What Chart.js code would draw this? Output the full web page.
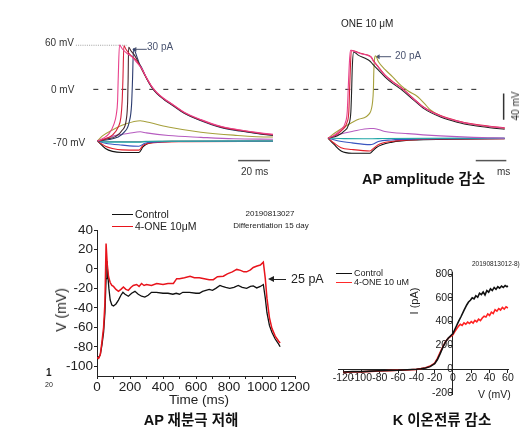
<!DOCTYPE html>
<html><head><meta charset="utf-8">
<script src="https://cdn.jsdelivr.net/npm/chart.js@4.4.1/dist/chart.umd.min.js"></script>
<style>
html,body{margin:0;padding:0;background:#fff;}
body{width:529px;height:437px;position:relative;overflow:hidden;font-family:"Liberation Sans",Arial,sans-serif;color:#222;}
canvas{position:absolute;}
.t{position:absolute;white-space:nowrap;line-height:1;}
.c{transform:translateX(-50%);}
.r{transform:translate(-50%,-50%) rotate(-90deg);}
.kr{font-family:"Liberation Sans",Arial,"Noto Sans CJK KR",sans-serif;font-weight:bold;color:#111;}
.ln{position:absolute;height:0;}
</style></head><body>
<canvas id="top" width="529" height="195" style="left:0px;top:0px"></canvas>
<canvas id="ap" width="315" height="180" style="left:0px;top:220px"></canvas>
<canvas id="iv" width="209" height="155" style="left:320px;top:255px"></canvas>

<!-- top panel text -->
<div class="t" style="left:45px;top:38px;font-size:10px;color:#333">60 mV</div>
<div class="t" style="left:51px;top:85px;font-size:10px;color:#333">0 mV</div>
<div class="t" style="left:53px;top:138px;font-size:10px;color:#333">-70 mV</div>
<div class="t" style="left:147px;top:42px;font-size:10px;color:#4a5470">30 pA</div>
<div class="t" style="left:395px;top:51px;font-size:10px;color:#4a5470">20 pA</div>
<div class="t" style="left:341px;top:19px;font-size:10px;color:#222">ONE 10 μM</div>
<div class="t" style="left:241px;top:167px;font-size:10px;color:#333">20 ms</div>
<div class="t" style="left:497px;top:167px;font-size:10px;color:#333">ms</div>
<div class="t r" style="left:516px;top:106px;font-size:10px;color:#333">40 mV</div>
<div class="t kr" style="left:362px;top:172px;font-size:14.5px">AP amplitude 감소</div>

<!-- bottom-left text -->
<div class="ln" style="left:112px;top:214px;width:21px;border-top:1.4px solid #111"></div>
<div class="t" style="left:135px;top:209px;font-size:10.5px">Control</div>
<div class="ln" style="left:112px;top:226px;width:21px;border-top:1.4px solid #e8141c"></div>
<div class="t" style="left:135px;top:221px;font-size:10.5px">4-ONE 10μM</div>
<div class="t c" style="left:270px;top:210px;font-size:8px">20190813027</div>
<div class="t c" style="left:271px;top:222px;font-size:8px">Differentiation 15 day</div>
<div class="ln" style="left:273px;top:279px;width:13px;border-top:1px solid #222"></div>
<div style="position:absolute;left:268px;top:276px;width:0;height:0;border-right:6px solid #222;border-top:3.5px solid transparent;border-bottom:3.5px solid transparent"></div>
<div class="t" style="left:291px;top:273px;font-size:12.5px">25 pA</div>
<div class="t r" style="left:61px;top:310px;font-size:14px">V (mV)</div>
<div class="t c" style="left:199px;top:393px;font-size:13.5px">Time (ms)</div>
<div class="t c kr" style="left:191px;top:413px;font-size:14.5px">AP 재분극 저해</div>
<div class="t" style="left:46px;top:368px;font-size:10px;font-weight:bold">1</div>
<div class="t" style="left:45px;top:381px;font-size:7px">20</div>

<!-- bottom-right text -->
<div class="ln" style="left:336px;top:273px;width:16px;border-top:1px solid #111"></div>
<div class="t" style="left:354px;top:268.5px;font-size:9px">Control</div>
<div class="ln" style="left:336px;top:282px;width:16px;border-top:1px solid #ff2a2a"></div>
<div class="t" style="left:354px;top:277.5px;font-size:9px">4-ONE 10 uM</div>
<div class="t" style="left:472px;top:261px;font-size:6.5px">20190813012-8)</div>
<div class="t r" style="left:414px;top:301px;font-size:11px">I (pA)</div>
<div class="t" style="left:478px;top:389px;font-size:10.5px">V (mV)</div>
<div class="t c kr" style="left:442px;top:413px;font-size:14.5px">K 이온전류 감소</div>

<script>
// ================= DATA =================
// Top panel: current-clamp traces, [time ms from step onset, membrane potential mV]
const oneOffset = 146.25; // ONE traces drawn to the right of control traces (ms)

const ctrlPink = [[0,-70],[3.8,-66],[7.3,-60],[10.4,-47],[11.9,-34],[12.7,-16],[13.1,14],[13.9,60],[15.6,55],[18.8,48.5],[21.9,44],[25,36],[28.1,28],[31.3,15],[34.4,4],[37.5,-4],[41.9,-12],[48.1,-21],[55,-31],[65.6,-41],[78.1,-50],[90.6,-55],[103.1,-59],[111.3,-61]];
const ctrlRed = [[0,-70],[5,-67],[9.4,-62],[13.1,-51],[14.8,-38],[15.6,-16],[16.1,14],[16.7,59],[18.1,54],[20.6,47],[23.8,41],[26.3,34],[28.1,27.5],[31.3,14.5],[34.4,3.5],[37.5,-4.5],[41.9,-12.5],[48.1,-21.5],[55,-31.5],[65.6,-41.5],[78.1,-50.5],[90.6,-55.5],[103.1,-59.5],[111.3,-61.5]];
const ctrlDark = [[0,-70],[6.3,-67],[11.4,-64],[15.6,-55.5],[18.3,-40],[19.1,-16],[19.4,14],[19.7,57],[21.3,52],[23.8,45],[26.3,35],[28.1,27],[31.3,14],[34.4,3],[37.5,-5],[41.9,-13],[48.1,-22],[55,-32],[65.6,-42],[78.1,-51],[90.6,-56],[103.1,-60],[111.3,-62]];
const ctrlNavy = [[0,-70],[7.5,-68],[12.5,-65],[16.9,-58],[20,-45],[21.6,-20],[22.2,14],[22.8,55],[25,44],[26.4,35.5],[28.1,29],[31.3,14],[34.4,2.5],[37.5,-5.5],[41.9,-13.5],[48.1,-22.5],[55,-32.5],[65.6,-42.5],[78.1,-51.5],[90.6,-56.5],[103.1,-60.5],[111.3,-62.5]];
const ctrlOlive = [[0,-70],[3.1,-63],[9.4,-55],[17.7,-47],[27.1,-42.5],[30,-43.5],[44.8,-51],[65.6,-58],[86.3,-62],[109.4,-64.5],[111.3,-64.5]];
const ctrlPurple = [[0,-70],[6,-66],[12.5,-62],[20,-59.5],[27.1,-57.5],[31,-59],[45,-62.5],[65.6,-65],[86.3,-67],[111.3,-67.5]];
const ctrlTeal = [[0,-70],[5,-71.5],[26.3,-71.7],[30,-70.8],[40,-70.3],[111.3,-70]];
const ctrlGrey = [[0,-70],[10,-70.6],[26.3,-70.8],[35,-70.2],[111.3,-69.8]];
const ctrlBlue = [[0,-70],[5,-73],[15.6,-75.5],[26.3,-77],[30,-73],[36,-71.5],[47,-70.6],[111.3,-70.3]];
const ctrlHypRed = [[0,-70],[5,-77],[9.4,-80],[15.6,-82],[26.3,-82.3],[28.8,-76],[31.3,-73.5],[40,-71.6],[55,-71],[111.3,-70.5]];
const ctrlHypBlack = [[0,-70],[5,-80],[9.4,-84],[15.6,-85.5],[26.3,-85.5],[28.8,-78],[31.3,-74],[36,-71.5],[48,-70.5],[111.3,-70.3]];

const onePink = [[0,-66],[4,-62],[8,-55],[11,-45],[12.2,-30],[12.8,0],[13.4,30],[14.2,53],[17.3,51],[21.4,48],[25.6,45.5],[27.3,43.5],[28.8,38],[31.9,30],[36.1,19],[41,10],[46.4,2],[53.8,-12],[61.1,-25],[71.4,-36],[81.9,-43],[92.3,-47.5],[102.7,-50.5],[112.1,-52.5]];
const oneRed = [[0,-66],[5,-62],[9,-55],[12,-45],[13.2,-30],[13.7,0],[14.2,30],[14.8,53],[17.3,51.5],[21.4,48.5],[25.6,46],[27.3,44],[28.8,39],[31.9,30.5],[36.1,19.5],[41,10.5],[46.4,2.5],[53.8,-11.5],[61.1,-24.5],[71.4,-35.5],[81.9,-42.5],[92.3,-47],[102.7,-50],[112.1,-52]];
const oneBlack = [[0,-66],[6,-63],[10,-57],[13,-48],[14.5,-30],[15,0],[15.4,30],[16.3,50.5],[19.4,46],[23.6,42],[26.7,38],[28.8,33],[32,26],[36.1,17],[41,8],[46.4,0],[53.8,-13.5],[61.1,-26.5],[71.4,-37.5],[81.9,-44.5],[92.3,-49],[102.7,-52],[112.1,-54]];
const oneOlive = [[0,-66],[5,-58],[11.1,-50],[19.4,-40.5],[26.7,-31.5],[28.3,-16.5],[28.8,0],[29.1,27],[30.2,45.5],[31.9,37.7],[36.1,27],[41,17],[46.4,5],[50.6,-2],[56.9,-10],[61.1,-19],[65,-28],[71.4,-36],[81.9,-43.5],[92.3,-48],[102.7,-51],[112.1,-53]];
const onePurple = [[0,-66],[8,-60.5],[15.2,-57],[26.7,-53],[29,-53],[36.1,-57],[50.6,-60],[71.4,-63],[92.3,-65],[112.1,-66]];
const oneTeal = [[0,-66],[10,-66.8],[28,-67],[35,-66.6],[112.1,-66]];
const oneBlue = [[0,-66],[6,-69.5],[15.2,-72.5],[26.7,-74.9],[28.8,-74],[31.9,-70.6],[40,-68.5],[56.9,-67.3],[112.1,-66.5]];
const oneHypRed = [[0,-66],[4,-73],[8.3,-79],[15.2,-81.4],[26.7,-83.5],[28.8,-80],[31.9,-74.9],[40,-70.6],[56.9,-68],[112.1,-66.8]];
const oneHypBlack = [[0,-66],[4,-75],[8.3,-83.5],[15.2,-86.5],[26.7,-86.5],[28.5,-83],[30.5,-79],[40,-71.8],[56.9,-68.4],[112.1,-67]];

// Top panel reference marks (data units: ms, mV)
const zeroLine = [[-2.7,0],[242.7,0]];
const peakLine = [[-13.75,59.7],[18.75,59.7]];
const timeBarCtrl = [[89.2,-96.5],[109.4,-96.5]];
const timeBarOne = [[240,-96.5],[259.4,-96.5]];
const voltBar = [[257.7,-5.6],[257.7,-41.2]];
const arrow30 = [[23.75,54.2],[31.25,54.2]];
const arrow20 = [[178.1,44.2],[186.25,44.2]];

// Bottom-left: AP repolarisation, [time ms, V mV]
const apControl = [[0,-90],[10,-91],[20,-88],[30,-78],[40,-65],[48,-45],[55,-10],[60,8],[65,-5],[72,-20],[80,-32],[90,-37],[100,-38],[115,-36],[130,-32],[145,-27],[157,-24],[170,-26],[190,-28],[210,-25],[230,-23],[250,-26],[270,-28],[290,-29],[310,-27],[330,-24],[360,-24],[400,-25],[430,-25],[460,-26],[480,-25],[500,-26],[520,-24],[560,-24],[600,-25],[620,-25],[640,-23],[660,-22],[680,-21],[700,-22],[720,-20],[745,-17],[760,-18],[780,-19],[805,-20],[830,-19],[856,-17],[880,-19],[907,-20],[930,-18],[947,-17.5],[968,-19.5],[990,-18],[1008,-16],[1020,-30],[1030,-45],[1045,-58],[1060,-65],[1080,-72],[1100,-77],[1110,-80]];
const apOne = [[0,-91],[10,-92],[20,-88],[30,-75],[40,-60],[48,-35],[55,26],[62,5],[70,-8],[80,-14],[90,-17],[100,-18],[115,-21],[130,-23],[145,-21],[160,-18.5],[175,-21],[190,-22],[205,-19],[220,-17],[240,-16],[255,-18],[270,-15],[285,-17],[300,-16],[330,-17],[362,-15],[400,-16],[430,-15],[463,-15],[483,-10],[500,-10],[530,-9],[564,-7.5],[590,-9],[620,-9],[650,-10],[680,-11],[705,-11],[730,-8],[766,-7.5],[790,-5],[820,-3],[847,-0.5],[870,-1.5],[890,-3],[907,-3],[930,-1],[947,1.5],[970,3],[990,4],[1008,7],[1020,-10],[1030,-30],[1045,-50],[1060,-61],[1080,-69],[1100,-74],[1110,-76]];
const apXTicks = [0,100,200,300,400,500,600,700,800,900,1000,1100,1200];
const apYTicks = [-100,-80,-60,-40,-20,0,20,40];

// Bottom-right: K current I-V, [V mV, I pA]
const ivControl = [[-120,-25],[-110,-22],[-100,-22],[-90,-18],[-80,-15],[-70,-12],[-60,-10],[-50,-6],[-40,-2],[-35,2],[-30,8],[-25,20],[-20,45],[-17,80],[-14,130],[-11,185],[-8,230],[-5,262],[-2,285],[0,300],[3,350],[6,400],[9,445],[12,495],[15,540],[17,565],[19,580],[21,600],[23,592],[25,618],[27,605],[29,640],[31,628],[33,650],[35,625],[37,662],[39,648],[41,676],[43,662],[45,688],[47,672],[49,694],[51,682],[53,700],[55,688],[57,704],[59,694],[60,702]];
const ivOne = [[-120,-28],[-110,-25],[-100,-24],[-90,-20],[-80,-17],[-70,-14],[-60,-11],[-50,-8],[-40,-3],[-35,3],[-30,10],[-25,25],[-20,50],[-17,90],[-14,140],[-11,190],[-8,232],[-5,260],[-2,278],[0,290],[2,315],[4,340],[6,360],[8,378],[10,368],[12,390],[14,378],[16,395],[18,384],[20,400],[22,388],[24,410],[26,398],[28,420],[30,408],[32,430],[34,445],[36,438],[38,465],[40,452],[42,480],[44,468],[46,500],[48,488],[50,510],[52,498],[54,520],[56,505],[58,525],[60,515]];
const ivXTicks = [-120,-100,-80,-60,-40,-20,0,20,40,60];
const ivYTicks = [-200,0,200,400,600,800];

// ================= DRAWING =================
const FONT = '"Liberation Sans", Arial, sans-serif';
Chart.defaults.font.family = FONT;
const pts = (arr, off=0) => arr.map(p => ({x: p[0] + off, y: p[1]}));
const trace = (arr, color, off=0, w=1.1) => ({data: pts(arr, off), borderColor: color, borderWidth: w, showLine: true, pointRadius: 0, cubicInterpolationMode: 'monotone', fill: false});
const mark = (arr, color, extra={}) => Object.assign({data: pts(arr), borderColor: color, borderWidth: 1, showLine: true, pointRadius: 0, tension: 0, fill: false}, extra);

const C = {pink:'#e8428c', red:'#d8203a', dark:'#4a2a30', navy:'#2c3c70', olive:'#a6a03c', purple:'#b65cc0', teal:'#1fa6a6', grey:'#6f9a9c', blue:'#3a56c0', hred:'#e41f2a', hblack:'#111'};

const topSets = [
  // control (drawn from index 0 = on top)
  trace(ctrlPink, C.pink), trace(ctrlRed, C.red), trace(ctrlDark, C.dark), trace(ctrlNavy, C.navy),
  trace(ctrlOlive, C.olive), trace(ctrlPurple, C.purple), trace(ctrlTeal, C.teal), trace(ctrlGrey, C.grey),
  trace(ctrlBlue, C.blue), trace(ctrlHypRed, C.hred), trace(ctrlHypBlack, C.hblack),
  // ONE
  trace(onePink, C.pink, oneOffset), trace(oneRed, C.red, oneOffset), trace(oneBlack, '#222', oneOffset),
  trace(oneOlive, C.olive, oneOffset), trace(onePurple, C.purple, oneOffset), trace(oneTeal, C.teal, oneOffset),
  trace(oneBlue, C.blue, oneOffset), trace(oneHypRed, C.hred, oneOffset), trace(oneHypBlack, C.hblack, oneOffset),
  // marks
  mark(arrow30, '#4a5470', {pointRadius:[2.8,0], pointStyle:'triangle', rotation:-90, pointBackgroundColor:'#4a5470', pointBorderWidth:0}),
  mark(arrow20, '#4a5470', {pointRadius:[2.8,0], pointStyle:'triangle', rotation:-90, pointBackgroundColor:'#4a5470', pointBorderWidth:0}),
  mark(zeroLine, '#222', {borderDash:[5,9]}),
  mark(peakLine, '#a0a0a0', {borderDash:[1,1.2]}),
  mark(timeBarCtrl, '#555', {borderWidth:1.5}),
  mark(timeBarOne, '#555', {borderWidth:1.5}),
  mark(voltBar, '#333', {borderWidth:1.5})
];

new Chart(document.getElementById('top'), {
  type: 'scatter',
  data: {datasets: topSets},
  options: {
    responsive: false, animation: false, events: [],
    layout: {padding: 0},
    plugins: {legend: {display: false}, tooltip: {enabled: false}},
    scales: {
      x: {type: 'linear', display: false, min: -59.375, max: 271.25},
      y: {type: 'linear', display: false, min: -137.66, max: 115.58}
    }
  }
});

const axisCommon = (size) => ({
  grid: {drawOnChartArea: false, drawTicks: true, tickLength: 3, color: '#222', tickWidth: 1},
  border: {display: true, color: '#222', width: 1},
  ticks: {color: '#222', font: {size: size, family: FONT}, padding: 0, autoSkip: false, maxRotation: 0, minRotation: 0}
});

const apX = axisCommon(13.5);
apX.ticks.callback = (v) => (v % 200 === 0 ? String(v) : '');
const apY = axisCommon(13.5);
apY.ticks.padding = 1;

new Chart(document.getElementById('ap'), {
  type: 'scatter',
  data: {datasets: [
    {data: pts(apOne), borderColor: '#e8141c', borderWidth: 1.5, showLine: true, pointRadius: 0, tension: 0},
    {data: pts(apControl), borderColor: '#111', borderWidth: 1.3, showLine: true, pointRadius: 0, tension: 0}
  ]},
  options: {
    responsive: false, animation: false, events: [],
    layout: {padding: {top: 10, right: 20, bottom: 0, left: 0}},
    plugins: {legend: {display: false}, tooltip: {enabled: false}},
    scales: {
      x: Object.assign({type: 'linear', min: 0, max: 1200,
        afterFit: s => { s.height = 24; },
        afterBuildTicks: s => { s.ticks = apXTicks.map(v => ({value: v})); }}, apX),
      y: Object.assign({type: 'linear', min: -110, max: 40,
        afterFit: s => { s.width = 97; },
        afterBuildTicks: s => { s.ticks = apYTicks.map(v => ({value: v})); }}, apY)
    }
  }
});

const ivX = axisCommon(10.5);
const ivY = axisCommon(10.5);
new Chart(document.getElementById('iv'), {
  type: 'scatter',
  data: {datasets: [
    {data: pts(ivControl), borderColor: '#111', borderWidth: 1.6, showLine: true, pointRadius: 0, tension: 0},
    {data: pts(ivOne), borderColor: '#ff2222', borderWidth: 1.6, showLine: true, pointRadius: 0, tension: 0}
  ]},
  options: {
    responsive: false, animation: false, events: [],
    layout: {padding: {top: 17.4, right: 20.2, bottom: 15.5, left: 18.6}},
    plugins: {legend: {display: false}, tooltip: {enabled: false}},
    scales: {
      x: Object.assign({type: 'linear', min: -125, max: 61, position: {y: 0},
        afterBuildTicks: s => { s.ticks = ivXTicks.map(v => ({value: v})); }}, ivX),
      y: Object.assign({type: 'linear', min: -215, max: 815, position: {x: 0},
        afterBuildTicks: s => { s.ticks = ivYTicks.map(v => ({value: v})); }}, ivY)
    }
  }
});
</script>
</body></html>
